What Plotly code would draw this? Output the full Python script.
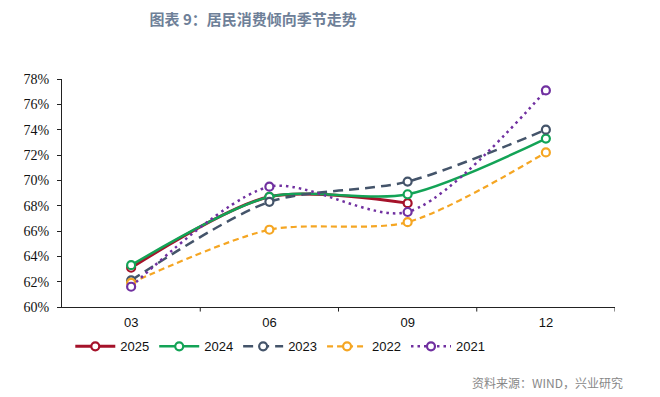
import plotly.graph_objects as go

categories = ["03", "06", "09", "12"]
s2025 = [63.1, 68.7, 68.2, None]
s2024 = [63.3, 68.7, 68.9, 73.3]
s2023 = [62.1, 68.3, 69.9, 74.0]
s2022 = [61.9, 66.1, 66.7, 72.2]
s2021 = [61.6, 69.5, 67.5, 77.1]
y_ticks = [60, 62, 64, 66, 68, 70, 72, 74, 76, 78]
y_tick_labels = [f"{v}%" for v in y_ticks]

series = [
    ("2025", s2025, "#a5122a", "solid", 3),
    ("2024", s2024, "#13a356", "solid", 2.5),
    ("2023", s2023, "#44546a", "10px,6px", 2.5),
    ("2022", s2022, "#f5a623", "6px,4px", 2.2),
    ("2021", s2021, "#7030a0", "2.5px,4px", 2.5),
]

fig = go.Figure()
for name, vals, color, dash, w in series:
    fig.add_trace(go.Scatter(
        x=categories, y=vals, name=name, mode="lines+markers",
        line=dict(color=color, dash=dash, width=w, shape="spline", smoothing=0.8),
        marker=dict(symbol="circle", size=8, color="white", line=dict(width=2.2, color=color)),
        connectgaps=False,
    ))

fig.update_layout(
    width=652, height=389,
    margin=dict(l=54, r=45, t=71, b=90),
    plot_bgcolor="white", paper_bgcolor="white",
    title=dict(text="<b>图表 9：居民消费倾向季节走势</b>", xref="container", x=0.376, xanchor="center",
               yref="container", y=0.969, yanchor="middle",
               font=dict(family="Noto Sans CJK SC", size=15, color="#6e8098")),
    xaxis=dict(type="category", range=[-0.5, 3.5], showline=True, linecolor="#222", linewidth=1.3,
               ticks="", showgrid=False, tickfont=dict(family="Liberation Sans", size=13, color="#111"),
               zeroline=False, ticklabelstandoff=3),
    yaxis=dict(range=[60, 78], tickvals=y_ticks, ticktext=y_tick_labels, showline=True, linecolor="#222",
               linewidth=1.3, ticks="outside", ticklen=4, tickcolor="#222", showgrid=False, zeroline=False,
               ticklabelstandoff=5,
               tickfont=dict(family="Liberation Serif", size=14, color="#111")),
    legend=dict(orientation="h", x=0.015, xanchor="left", y=-0.107, yanchor="top",
                font=dict(family="Liberation Sans", size=13, color="#111"), itemwidth=40,
                tracegroupgap=0, itemclick=False),
    showlegend=True,
)

# tick marks between categories on x axis
for b in [0.5, 1.5, 2.5, 3.5]:
    fig.add_shape(type="line", xref="x", yref="paper", x0=b, x1=b, y0=0, y1=-0.02,
                  line=dict(color="#222", width=1))

fig.add_annotation(text="资料来源：WIND，兴业研究", xref="paper", yref="paper", x=1.018, y=-0.333,
                   xanchor="right", yanchor="middle", showarrow=False,
                   font=dict(family="Noto Sans CJK SC", size=12, color="#888"))

fig.write_html("out.html")
